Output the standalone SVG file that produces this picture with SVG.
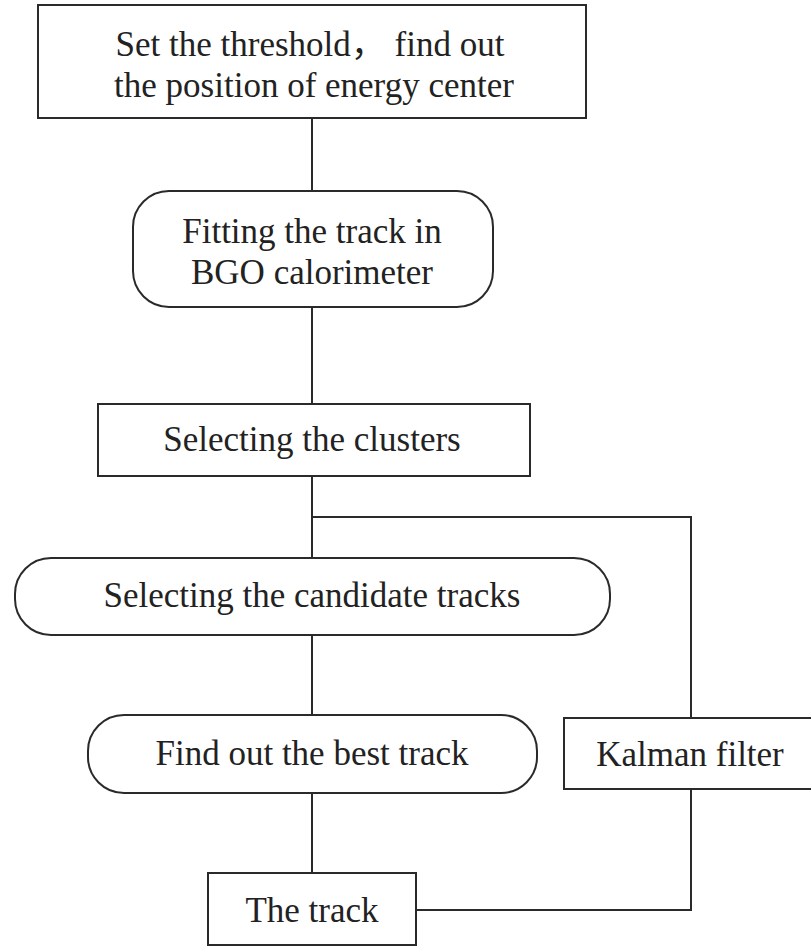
<svg xmlns="http://www.w3.org/2000/svg" width="811" height="946" viewBox="0 0 811 946">
<style>
.box{fill:#fff;stroke:#2a2a2a;stroke-width:2}
.ln{fill:none;stroke:#2a2a2a;stroke-width:2}
text{font-family:"Liberation Serif","Noto Sans CJK SC",serif;font-size:35px;fill:#222;text-anchor:middle}
</style>
<rect width="811" height="946" fill="#fff"/>
<g id="connectors">
<line class="ln" x1="312" y1="118" x2="312" y2="191"/>
<line class="ln" x1="312" y1="307" x2="312" y2="404"/>
<line class="ln" x1="312" y1="476" x2="312" y2="558"/>
<polyline class="ln" points="312,517 691,517 691,718"/>
<line class="ln" x1="312" y1="635" x2="312" y2="715"/>
<line class="ln" x1="312" y1="793" x2="312" y2="873"/>
<polyline class="ln" points="691,789 691,910 416,910"/>
</g>
<g id="n1">
<rect class="box" x="38" y="5" width="548" height="113"/>
<text x="310" y="56">Set the threshold， find out</text>
<text x="314" y="97">the position of energy center</text>
</g>
<g id="n2">
<rect class="box" x="133" y="191" width="360" height="116" rx="36"/>
<text x="312" y="243">Fitting the track in</text>
<text x="312" y="284">BGO calorimeter</text>
</g>
<g id="n3">
<rect class="box" x="98" y="404" width="432" height="72"/>
<text x="312" y="451">Selecting the clusters</text>
</g>
<g id="n4">
<rect class="box" x="15" y="558" width="595" height="77" rx="36"/>
<text x="312" y="607">Selecting the candidate tracks</text>
</g>
<g id="n5">
<rect class="box" x="88" y="715" width="449" height="78" rx="36"/>
<text x="312" y="765">Find out the best track</text>
</g>
<g id="n6">
<rect class="box" x="564" y="718" width="252" height="71"/>
<text x="690" y="766">Kalman filter</text>
</g>
<g id="n7">
<rect class="box" x="208" y="873" width="208" height="72"/>
<text x="312" y="922">The track</text>
</g>
</svg>
